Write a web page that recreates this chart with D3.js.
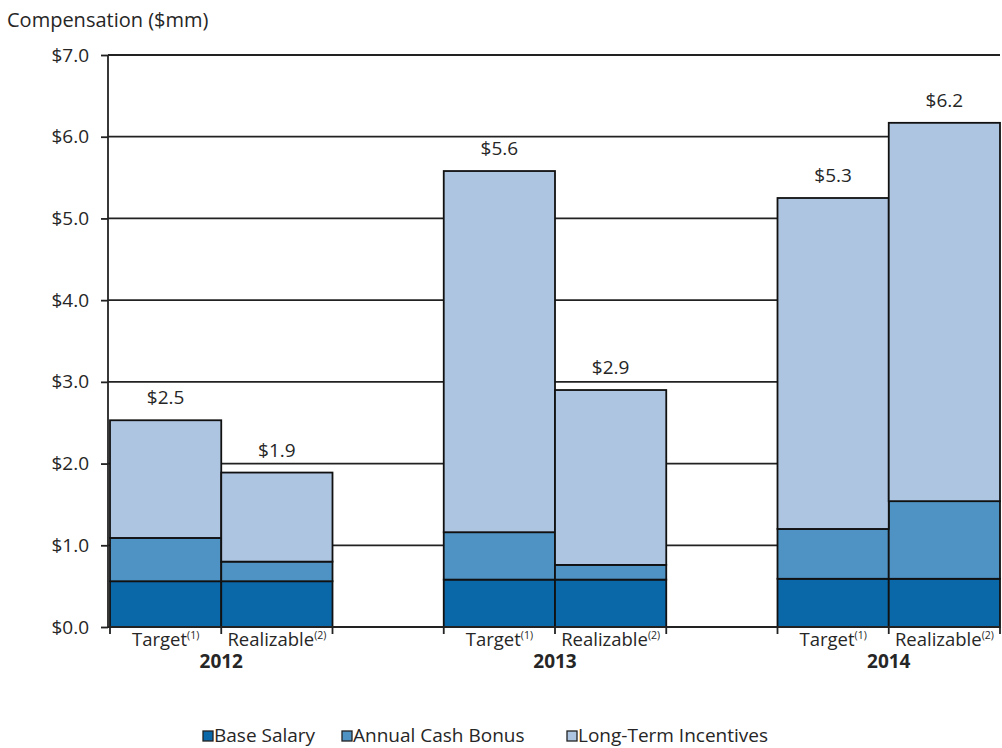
<!DOCTYPE html>
<html>
<head>
<meta charset="utf-8">
<style>
  body { margin: 0; background: #fff; }
  svg text { font-family: "Open Sans", sans-serif; fill: #262626; }
</style>
</head>
<body>
<svg width="1002" height="748"></svg>
<script src="https://cdnjs.cloudflare.com/ajax/libs/d3/7.8.5/d3.min.js"></script>
<script>

// data ($mm)
var years = ["2012", "2013", "2014"];
var kinds = ["Target", "Realizable"];
var kindNotes = ["(1)", "(2)"];
var series = ["Base Salary", "Annual Cash Bonus", "Long-Term Incentives"];
var baseSalary = [0.56, 0.56, 0.58, 0.58, 0.59, 0.59];
var cashBonus = [0.53, 0.24, 0.58, 0.18, 0.61, 0.95];
var longTerm = [1.44, 1.09, 4.42, 2.14, 4.05, 4.63];
var totalLabels = ["$2.5", "$1.9", "$5.6", "$2.9", "$5.3", "$6.2"];
var yTicks = [0, 1, 2, 3, 4, 5, 6, 7];
var colors = ["#0b68a8", "#4f93c4", "#aec5e1"];

var svg = d3.select("svg"),
    margin = {top: 55, right: 2, bottom: 121, left: 110},
    width = 1000 - margin.left,
    height = 627 - margin.top,
    g = svg.append("g").attr("transform", "translate(" + margin.left + "," + margin.top + ")");

// rows for the stack: one per bar
var rows = [];
years.forEach(function(yr, i) {
  kinds.forEach(function(k, j) {
    var n = i * 2 + j;
    rows.push({year: yr, kind: k, note: kindNotes[j], label: totalLabels[n],
      "Base Salary": baseSalary[n], "Annual Cash Bonus": cashBonus[n], "Long-Term Incentives": longTerm[n]});
  });
});

var x0 = d3.scaleBand().domain(years).range([0, width]).paddingInner(1 / 3).paddingOuter(0);
var x1 = d3.scaleBand().domain(kinds).range([0, x0.bandwidth()]);
var y = d3.scaleLinear().domain([0, 7]).range([height, 0]);

var stack = d3.stack().keys(series)(rows);

// gridlines
g.append("g").selectAll("line")
  .data(yTicks.filter(function(d) { return d > 0; }))
  .enter().append("line")
    .attr("x1", -2).attr("x2", width)
    .attr("y1", function(d) { return y(d); })
    .attr("y2", function(d) { return y(d); })
    .attr("stroke", "#222").attr("stroke-width", 1.8);

// bars
g.append("g").selectAll("g")
  .data(stack)
  .enter().append("g")
    .attr("fill", function(d, i) { return colors[i]; })
  .selectAll("rect")
  .data(function(d) { return d; })
  .enter().append("rect")
    .attr("x", function(d) { return x0(d.data.year) + x1(d.data.kind); })
    .attr("y", function(d) { return y(d[1]); })
    .attr("width", x1.bandwidth())
    .attr("height", function(d) { return y(d[0]) - y(d[1]); })
    .attr("stroke", "#111").attr("stroke-width", 1.8);

// total labels
g.append("g").selectAll("text")
  .data(rows)
  .enter().append("text")
    .attr("x", function(d) { return x0(d.year) + x1(d.kind) + x1.bandwidth() / 2; })
    .attr("y", function(d) { return y(d["Base Salary"] + d["Annual Cash Bonus"] + d["Long-Term Incentives"]) - 16; })
    .attr("text-anchor", "middle")
    .style("font-size", "19px")
    .text(function(d) { return d.label; });

// y axis
var yAxis = g.append("g")
    .attr("transform", "translate(-2,0)")
    .call(d3.axisLeft(y).tickValues(yTicks).tickSize(7).tickFormat(function(d) { return "$" + d3.format(".1f")(d); }));
yAxis.select(".domain").attr("stroke", "#222").attr("stroke-width", 1.8).attr("d", "M0," + y(7) + "V" + y(0));
yAxis.selectAll(".tick line").attr("stroke", "#222").attr("stroke-width", 1.8);
yAxis.selectAll(".tick text").attr("x", -19).style("font-size", "19px").style("fill", "#262626").style("font-family", "Open Sans");

// x axis line and edge ticks
g.append("line")
  .attr("x1", -2).attr("x2", width)
  .attr("y1", height).attr("y2", height)
  .attr("stroke", "#222").attr("stroke-width", 1.8);

var edges = [];
years.forEach(function(yr) {
  edges.push(x0(yr), x0(yr) + x1.bandwidth(), x0(yr) + x0.bandwidth());
});
g.append("g").selectAll("line")
  .data(edges)
  .enter().append("line")
    .attr("x1", function(d) { return d; }).attr("x2", function(d) { return d; })
    .attr("y1", height).attr("y2", height + 7)
    .attr("stroke", "#222").attr("stroke-width", 1.8);

// category labels with superscript notes
var cat = g.append("g").selectAll("text")
  .data(rows)
  .enter().append("text")
    .attr("x", function(d) { return x0(d.year) + x1(d.kind) + x1.bandwidth() / 2; })
    .attr("y", height + 19)
    .attr("text-anchor", "middle")
    .style("font-size", "18.5px");
cat.append("tspan").text(function(d) { return d.kind; });
cat.append("tspan").attr("dy", -7).style("font-size", "10.5px").text(function(d) { return d.note; });

// year labels
g.append("g").selectAll("text")
  .data(years)
  .enter().append("text")
    .attr("x", function(d) { return x0(d) + x0.bandwidth() / 2; })
    .attr("y", height + 41)
    .attr("text-anchor", "middle")
    .style("font-size", "19px").style("font-weight", "bold")
    .text(function(d) { return d; });

// axis title
svg.append("text")
  .attr("x", 7).attr("y", 27)
  .style("font-size", "20px")
  .text("Compensation ($mm)");

// legend
var legendX = [203, 342, 567];
var legend = svg.append("g").selectAll("g")
  .data(series)
  .enter().append("g")
    .attr("transform", function(d, i) { return "translate(" + legendX[i] + ",731)"; });
legend.append("rect")
  .attr("width", 10).attr("height", 10)
  .attr("fill", function(d, i) { return colors[i]; })
  .attr("stroke", "#222").attr("stroke-width", 1.3);
legend.append("text")
  .attr("x", 11).attr("y", 11)
  .style("font-size", "19px")
  .text(function(d) { return d; });

</script>
</body>
</html>
